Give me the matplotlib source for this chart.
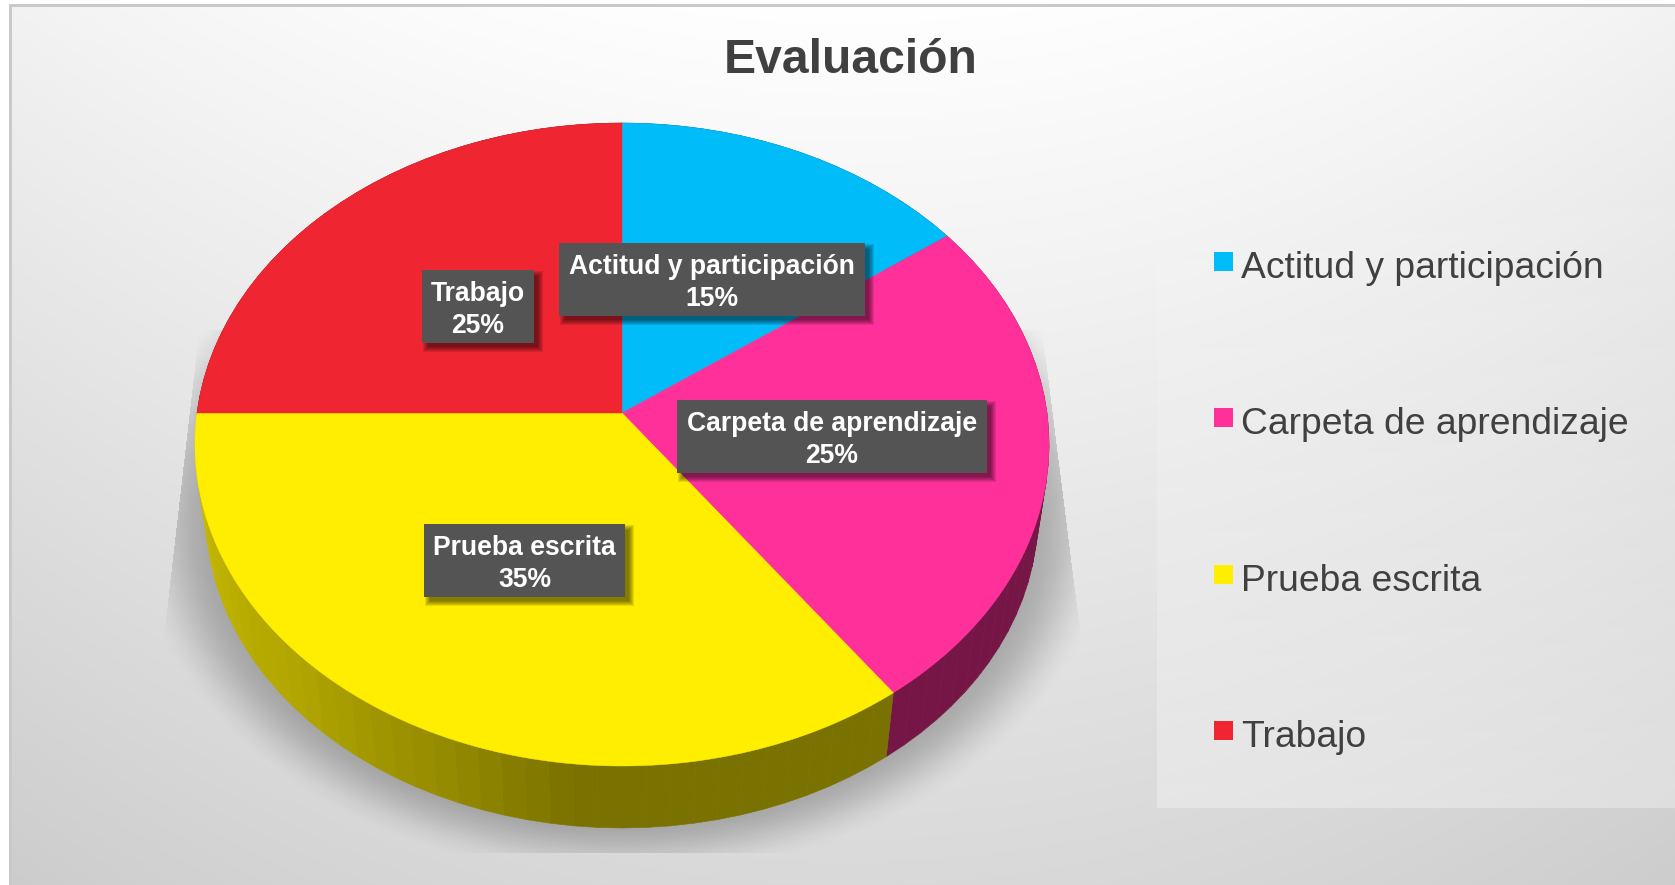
import numpy as np
import matplotlib
matplotlib.use('Agg')
import matplotlib.pyplot as plt
from matplotlib.patches import Rectangle
from matplotlib.colors import to_rgb

plt.rcParams['font.family'] = ['Liberation Sans', 'DejaVu Sans']

# Datos del gráfico
categorias = ['Actitud y participación', 'Carpeta de aprendizaje', 'Prueba escrita', 'Trabajo']
porcentajes = [15, 25, 35, 25]
colores = ['#00BCF8', '#FF3099', '#FFEE00', '#EF2532']
titulo = 'Evaluación'

# Cajas de las etiquetas en píxeles (x0, y0, x1, y1)
cajas = [(559, 243, 865, 316), (677, 400, 987, 473), (424, 524, 625, 597), (422, 270, 534, 343)]

W, H = 1675, 885
# Perspectiva de la cara superior
CX, CY = 622, 413
A, B, K = 425, 318.4, 0.098
# Cara inferior: escala respecto al punto de fuga
ESCALA, FUGA_Y = 0.974, 3150


def proyecta(angulo):
    # angulo en grados, horario desde arriba
    u = np.sin(np.radians(angulo))
    v = np.cos(np.radians(angulo))
    w = 1 + K * v
    return CX + A * u / w, CY - B * v / w


def baja(x, y):
    return CX + (x - CX) * ESCALA, FUGA_Y + (y - FUGA_Y) * ESCALA


def factor_lateral(i, angulo):
    if i == 2:
        return np.interp(angulo, [144, 186, 202, 225, 270], [0.48, 0.48, 0.58, 0.69, 0.80])
    return 0.46


fig = plt.figure(figsize=(W / 100, H / 100), dpi=100)
ax = fig.add_axes([0, 0, 1, 1])
ax.set_xlim(0, W)
ax.set_ylim(H, 0)
ax.axis('off')

# Fondo degradado
yy, xx = np.mgrid[0:H, 0:W]
fondo = 255 - 38 * yy / H - 13 * ((xx - 850) / 850) ** 2
fondo = np.clip(fondo, 0, 255) / 255
ax.imshow(np.dstack([fondo, fondo, fondo]), extent=(0, W, H, 0), aspect='auto', zorder=0)
ax.add_patch(Rectangle((0, 0), 9, H, color='white', lw=0, zorder=1))
ax.add_patch(Rectangle((0, 0), W, 4, color='white', lw=0, zorder=1))
ax.add_patch(Rectangle((9, 4), 2.5, H, color='#c9c9c9', lw=0, zorder=1))
ax.add_patch(Rectangle((9, 4), W, 3, color='#c9c9c9', lw=0, zorder=1))

# Sombra bajo el gráfico
r = np.hypot((xx - CX) / 495, (yy - 515) / 365)
sombra = np.clip((1 - r) / 0.17, 0, 1)
sombra = sombra * sombra * (3 - 2 * sombra)
borde_izq = 193 - (yy - 380) * 0.115
borde_der = 1043 + (yy - 340) * 0.126
sombra[(xx < borde_izq) | (xx > borde_der) | (yy > 852) | (yy < 330)] = 0
capa = np.zeros((H, W, 4))
capa[..., 3] = sombra * 0.25
ax.imshow(capa, extent=(0, W, H, 0), aspect='auto', zorder=2)

# Panel de la leyenda, casi invisible arriba
panel = np.ones((625, 2, 4))
panel[..., 3] = np.linspace(0.04, 0.32, 625)[:, None]
ax.imshow(panel, extent=(1157, W, 808, 183), aspect='auto', zorder=3)
ax.set_xlim(0, W)
ax.set_ylim(H, 0)

# Sectores
inicio = 0
angulos = []
for p in porcentajes:
    angulos.append((inicio, inicio + p * 3.6))
    inicio += p * 3.6

# Lateral del pastel, por franjas
for i, (a0, a1) in enumerate(angulos):
    base = np.array(to_rgb(colores[i]))
    n = max(int((a1 - a0) / 3), 1)
    bordes = np.linspace(a0, a1, n + 1)
    for b0, b1 in zip(bordes[:-1], bordes[1:]):
        x, y = proyecta(np.array([b0, b1]))
        xb, yb = baja(x, y)
        color = base * factor_lateral(i, (b0 + b1) / 2)
        ax.fill([x[0], x[1], xb[1], xb[0]], [y[0], y[1], yb[1], yb[0]], color=color, lw=0.4, zorder=4)

# Cara superior
for i, (a0, a1) in enumerate(angulos):
    t = np.linspace(a0, a1, 200)
    x, y = proyecta(t)
    ax.fill(np.r_[CX, x], np.r_[CY, y], color=colores[i], lw=0.3, zorder=5)

# Etiquetas
for i, (x0, y0, x1, y1) in enumerate(cajas):
    for e in [4, 3, 2, 1, 0, -1]:
        ax.add_patch(Rectangle((x0 + 5 - e, y0 + 5 - e), x1 - x0 + 2 * e, y1 - y0 + 2 * e, color='black', alpha=0.1,
                               lw=0, zorder=6))
    ax.add_patch(Rectangle((x0, y0), x1 - x0, y1 - y0, color='#545454', lw=0, zorder=7))
    ax.text((x0 + x1) / 2, (y0 + y1) / 2 + 3.5, '{}\n{}%'.format(categorias[i], porcentajes[i]), color='white',
            fontsize=19.1, fontweight='bold', ha='center', va='center', linespacing=1.3, zorder=8)

# Leyenda
for i, cat in enumerate(categorias):
    y = 252 + 156.4 * i
    ax.add_patch(Rectangle((1214, y), 19, 19, color=colores[i], lw=0, zorder=6))
    ax.text(1241, y + 26, cat, color='#404040', fontsize=26.8, ha='left', va='baseline', zorder=6)

ax.text(851, 73, titulo, color='#404040', fontsize=34.6, fontweight='bold', ha='center', va='baseline', zorder=6)

plt.savefig('out.png', dpi=100)
